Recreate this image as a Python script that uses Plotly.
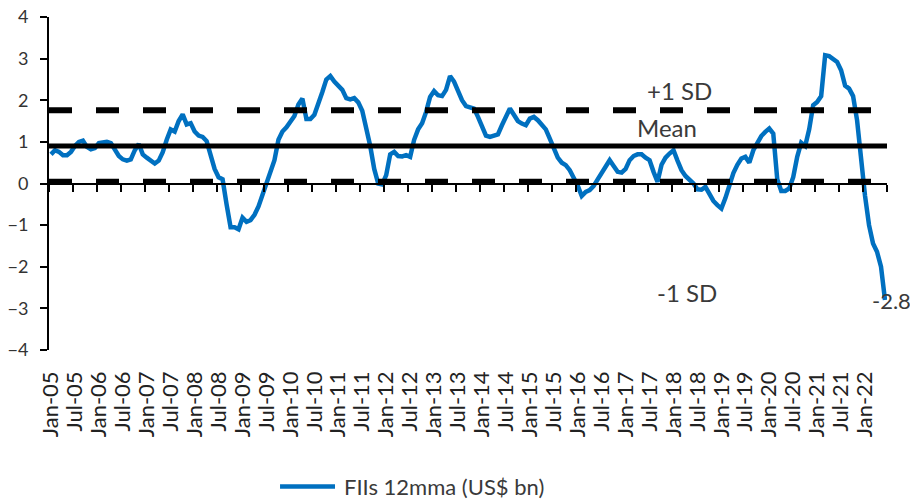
import plotly.graph_objects as go

# Monthly FII flows, 12-month moving average (US$ bn), Jan-05 .. Jun-22
fii_12mma = [
    # 2005
    0.70, 0.80, 0.76, 0.68, 0.68, 0.76, 0.90, 1.00, 1.03, 0.88, 0.82, 0.85,
    # 2006
    0.97, 0.98, 1.00, 0.97, 0.80, 0.66, 0.58, 0.55, 0.58, 0.80, 0.95, 0.70,
    # 2007
    0.62, 0.55, 0.48, 0.55, 0.75, 1.05, 1.30, 1.25, 1.50, 1.66, 1.42, 1.45,
    # 2008
    1.25, 1.15, 1.12, 1.02, 0.70, 0.35, 0.15, 0.10, -0.50, -1.05, -1.05, -1.10,
    # 2009
    -0.82, -0.92, -0.88, -0.75, -0.55, -0.28, 0.00, 0.22, 0.56, 1.05, 1.25, 1.35,
    # 2010
    1.50, 1.62, 1.90, 2.04, 1.55, 1.55, 1.65, 1.90, 2.20, 2.50, 2.58, 2.45,
    # 2011
    2.35, 2.25, 2.05, 2.02, 2.05, 1.95, 1.75, 1.36, 0.90, 0.35, 0.00, -0.02,
    # 2012
    0.20, 0.70, 0.76, 0.66, 0.65, 0.68, 0.64, 1.05, 1.30, 1.45, 1.72, 2.08,
    # 2013
    2.22, 2.12, 2.10, 2.25, 2.58, 2.45, 2.20, 2.00, 1.86, 1.82, 1.80, 1.60,
    # 2014
    1.40, 1.15, 1.12, 1.14, 1.18, 1.40, 1.60, 1.80, 1.65, 1.50, 1.44, 1.40,
    # 2015
    1.56, 1.60, 1.52, 1.42, 1.30, 1.08, 0.85, 0.62, 0.50, 0.44, 0.32, 0.15,
    # 2016
    -0.05, -0.30, -0.20, -0.16, -0.06, 0.10, 0.25, 0.40, 0.56, 0.42, 0.28, 0.26,
    # 2017
    0.35, 0.56, 0.66, 0.70, 0.70, 0.62, 0.56, 0.28, 0.04, 0.45, 0.62, 0.72,
    # 2018
    0.80, 0.55, 0.32, 0.18, 0.08, 0.00, -0.14, -0.15, -0.08, -0.24, -0.42, -0.52,
    # 2019
    -0.60, -0.35, -0.05, 0.25, 0.45, 0.60, 0.64, 0.50, 0.80, 0.98, 1.14, 1.24,
    # 2020
    1.32, 1.20, 0.10, -0.18, -0.18, -0.12, 0.15, 0.64, 0.98, 0.90, 1.30, 1.88,
    # 2021
    1.96, 2.10, 3.08, 3.06, 3.00, 2.92, 2.72, 2.35, 2.28, 2.10, 1.52, 0.50,
    # 2022
    -0.30, -1.00, -1.44, -1.64, -2.00, -2.80,
]

tick_labels = [
    "Jan-05", "Jul-05", "Jan-06", "Jul-06", "Jan-07", "Jul-07", "Jan-08", "Jul-08",
    "Jan-09", "Jul-09", "Jan-10", "Jul-10", "Jan-11", "Jul-11", "Jan-12", "Jul-12",
    "Jan-13", "Jul-13", "Jan-14", "Jul-14", "Jan-15", "Jul-15", "Jan-16", "Jul-16",
    "Jan-17", "Jul-17", "Jan-18", "Jul-18", "Jan-19", "Jul-19", "Jan-20", "Jul-20",
    "Jan-21", "Jul-21", "Jan-22",
]

mean_level = 0.90
plus_1sd = 1.76
minus_1sd = 0.04
last_value_label = "-2.8"

n = len(fii_12mma)
months = list(range(n))
label_pos = [6 * k for k in range(len(tick_labels))]
tick_marks = [6 * k - 0.5 for k in range(len(tick_labels) + 1)]
x_span = [-0.5, n - 0.5]

BLUE = "#0070C0"
TEXT = "#3a3a3a"
FONT = "Lato"

fig = go.Figure()

fig.add_trace(go.Scatter(
    x=months, y=fii_12mma, mode="lines", name="FIIs 12mma (US$ bn)",
    line=dict(color=BLUE, width=4.5), showlegend=False, xaxis="x", yaxis="y",
))

# Mean and +/-1 SD reference lines, on the overlay axis that carries the tick marks at zero
fig.add_trace(go.Scatter(
    x=x_span, y=[mean_level, mean_level], mode="lines",
    line=dict(color="black", width=5), showlegend=False, xaxis="x2", yaxis="y",
))
for lvl in (plus_1sd, minus_1sd):
    fig.add_trace(go.Scatter(
        x=x_span, y=[lvl, lvl], mode="lines",
        line=dict(color="black", width=6, dash="23px,24px"),
        showlegend=False, xaxis="x2", yaxis="y",
    ))

fig.update_layout(
    width=910, height=499,
    margin=dict(l=49, r=23, t=17, b=149, autoexpand=False),
    paper_bgcolor="white", plot_bgcolor="white",
    font=dict(family=FONT, color=TEXT),
    xaxis=dict(
        range=x_span, tickmode="array", tickvals=label_pos, ticktext=tick_labels,
        tickangle=-90, tickfont=dict(size=22, color="#222"),
        showline=False, showgrid=False, zeroline=False, ticks="",
        ticklabelstandoff=16, automargin=False,
    ),
    xaxis2=dict(
        overlaying="x", matches="x", anchor="free", position=0.5,
        range=x_span, tickmode="array", tickvals=tick_marks,
        showticklabels=False, showline=True, linecolor="black", linewidth=2,
        ticks="outside", ticklen=7, tickwidth=2, tickcolor="black",
        showgrid=False, zeroline=False, automargin=False,
    ),
    yaxis=dict(
        range=[-4, 4], dtick=1, tickfont=dict(size=18, color="#333"),
        showline=True, linecolor="black", linewidth=2,
        ticks="outside", ticklen=7, tickwidth=2, tickcolor="black",
        showgrid=False, zeroline=False, ticklabelstandoff=8, automargin=False,
    ),
)

# Band labels
fig.add_annotation(x=157.6, y=2.24, text="+1 SD", showarrow=False,
                   font=dict(size=24, color=TEXT))
fig.add_annotation(x=154.4, y=1.35, text="Mean", showarrow=False,
                   font=dict(size=24, color=TEXT))
fig.add_annotation(x=159.4, y=-2.63, text="-1 SD", showarrow=False,
                   font=dict(size=24, color=TEXT))
fig.add_annotation(x=months[-1], y=fii_12mma[-1], text=last_value_label,
                   showarrow=False, xanchor="left", xshift=-15,
                   font=dict(size=22, color=TEXT))

# Legend key below the axis labels
fig.add_shape(type="line", xref="paper", yref="paper",
              x0=0.2757, x1=0.3413, y0=-0.41, y1=-0.41,
              line=dict(color=BLUE, width=4.5))
fig.add_annotation(xref="paper", yref="paper", x=0.3497, y=-0.41,
                   text="FIIs 12mma (US$ bn)", showarrow=False,
                   xanchor="left", yanchor="middle",
                   font=dict(size=22, color=TEXT))

fig.write_html("out.html")
